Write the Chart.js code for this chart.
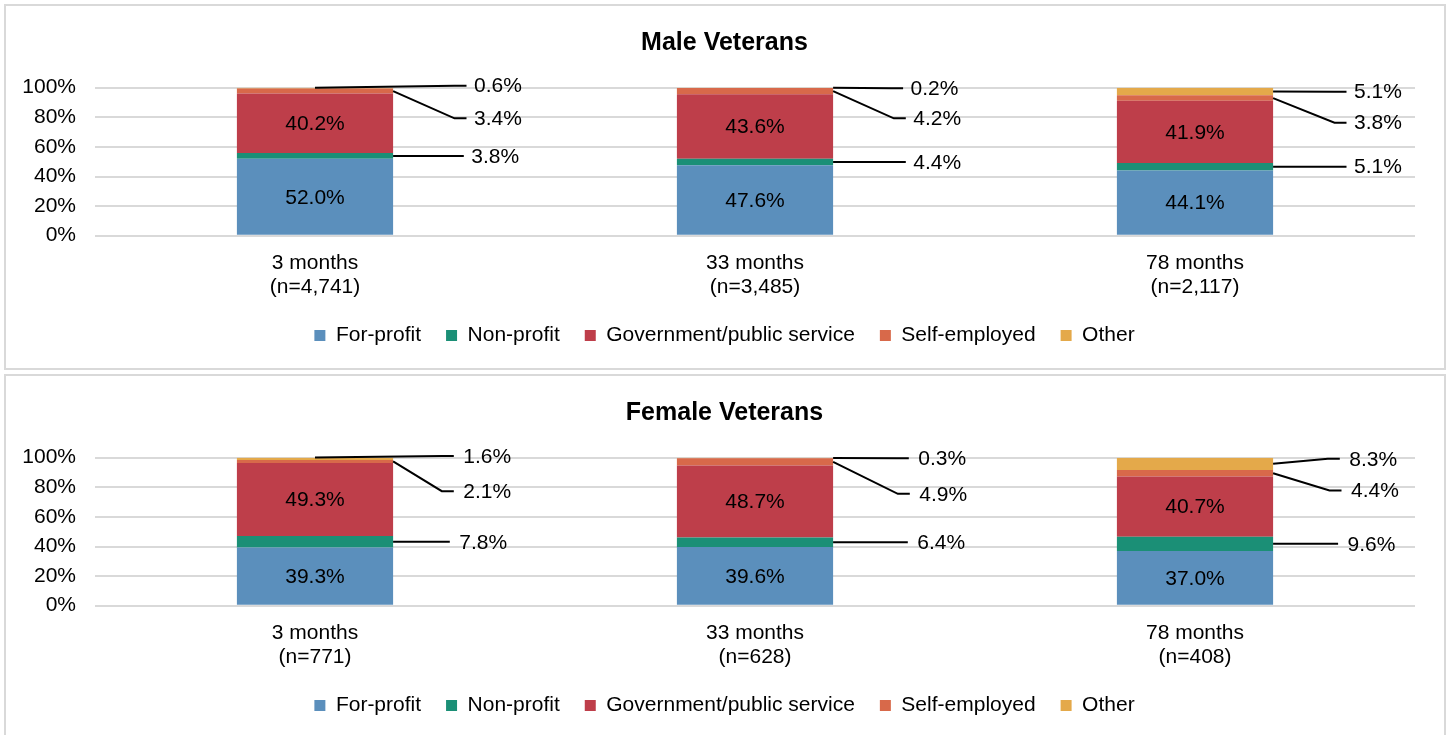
<!DOCTYPE html>
<html>
<head>
<meta charset="utf-8">
<script src="https://cdn.jsdelivr.net/npm/chart.js@4.4.1/dist/chart.umd.min.js"></script>
<style>
  html, body { margin: 0; padding: 0; background: #fff; width: 1447px; height: 735px; overflow: hidden; }
  .panel { position: absolute; border: 2px solid #d9d9d9; box-sizing: border-box; }
  #p1 { left: 4px; top: 4px; width: 1442px; height: 366px; }
  #p2 { left: 4px; top: 374px; width: 1442px; height: 380px; }
  canvas { position: absolute; left: 2px; }
  #c1 { top: 0px; }
  #c2 { top: 370px; }
</style>
</head>
<body>
<div class="panel" id="p1"></div>
<div class="panel" id="p2"></div>
<canvas id="c1" width="1445" height="370"></canvas>
<canvas id="c2" width="1445" height="370"></canvas>
<script>
// ---- Data ----
const seriesNames = ['For-profit', 'Non-profit', 'Government/public service', 'Self-employed', 'Other'];

const maleCategories = [['3 months', '(n=4,741)'], ['33 months', '(n=3,485)'], ['78 months', '(n=2,117)']];
const maleForProfit = [52.0, 47.6, 44.1];
const maleNonProfit = [3.8, 4.4, 5.1];
const maleGovernment = [40.2, 43.6, 41.9];
const maleSelfEmployed = [3.4, 4.2, 3.8];
const maleOther = [0.6, 0.2, 5.1];

const femaleCategories = [['3 months', '(n=771)'], ['33 months', '(n=628)'], ['78 months', '(n=408)']];
const femaleForProfit = [39.3, 39.6, 37.0];
const femaleNonProfit = [7.8, 6.4, 9.6];
const femaleGovernment = [49.3, 48.7, 40.7];
const femaleSelfEmployed = [2.1, 4.9, 4.4];
const femaleOther = [1.6, 0.3, 8.3];

const yTicks = [0, 20, 40, 60, 80, 100];

// ---- Styles / layout ----
const colors = ['#5B8FBC', '#1B8F76', '#BE3E4A', '#D8694A', '#E4A94A'];
const FONT = '"Liberation Sans", Arial, sans-serif';

const maleLabelLayout = {
  npEnd: [70.7, 72.7, 73.4],
  seEnd: [73.4, 72.7, 73.4],
  otEnd: [73.4, 70, 73.4],
  seY: [79.3, 79.3, 76.4],
  otY: [101.4, 99.6, 97.3],
  otFromTop: [true, false, false],
  textGap: 7.5
};
const femaleLabelLayout = {
  npEnd: [56.7, 74.7, 65],
  seEnd: [60.7, 76.7, 68.4],
  otEnd: [60.7, 75.7, 66.7],
  seY: [77.4, 75.6, 77.9],
  otY: [101.1, 99.7, 99.3],
  otFromTop: [true, false, false],
  textGap: 9.5
};

Chart.defaults.font.family = FONT;
Chart.defaults.font.size = 21;
Chart.defaults.color = '#000';

const labelPlugin = {
  id: 'segLabels',
  afterDatasetsDraw(chart, args, opts) {
    const L = opts.layout;
    if (!L) return;
    const ctx = chart.ctx;
    const yScale = chart.scales.y;
    const n = chart.data.labels.length;
    ctx.save();
    ctx.font = '21px ' + FONT;
    ctx.fillStyle = '#000';
    ctx.strokeStyle = '#000';
    ctx.lineWidth = 2;
    ctx.textBaseline = 'middle';
    const fmt = v => v.toFixed(1) + '%';
    for (let i = 0; i < n; i++) {
      const el = k => chart.getDatasetMeta(k).data[i].getProps(['x', 'y', 'base', 'width'], true);
      const val = k => chart.data.datasets[k].data[i];
      // inside labels
      ctx.textAlign = 'center';
      for (const k of [0, 2]) {
        const e = el(k);
        ctx.fillText(fmt(val(k)), e.x, (e.y + e.base) / 2 + 1);
      }
      const fp = el(0);
      const right = fp.x + fp.width / 2;
      ctx.textAlign = 'left';
      // Non-profit
      {
        const e = el(1);
        const cy = (e.y + e.base) / 2;
        const end = right + L.npEnd[i];
        ctx.beginPath();
        ctx.moveTo(right, cy);
        ctx.lineTo(end, cy);
        ctx.stroke();
        ctx.fillText(fmt(val(1)), end + L.textGap, cy + 1);
      }
      // Self-employed
      {
        const e = el(3);
        const cy = (e.y + e.base) / 2;
        const ly = yScale.getPixelForValue(L.seY[i]);
        const end = right + L.seEnd[i];
        ctx.beginPath();
        ctx.moveTo(right, cy);
        ctx.lineTo(end - 12, ly);
        ctx.lineTo(end, ly);
        ctx.stroke();
        ctx.fillText(fmt(val(3)), end + L.textGap, ly + 1);
      }
      // Other
      {
        const e = el(4);
        const cy = (e.y + e.base) / 2;
        const ly = yScale.getPixelForValue(L.otY[i]);
        const end = right + L.otEnd[i];
        ctx.beginPath();
        if (L.otFromTop[i]) ctx.moveTo(e.x, e.y); else ctx.moveTo(right, cy);
        ctx.lineTo(end - 12, ly);
        ctx.lineTo(end, ly);
        ctx.stroke();
        ctx.fillText(fmt(val(4)), end + L.textGap, ly + 1);
      }
    }
    ctx.restore();
  }
};

function makeChart(id, title, categories, seriesData, layout) {
  const datasets = seriesData.map((d, k) => ({
    label: seriesNames[k],
    data: d,
    backgroundColor: colors[k],
    borderWidth: 0,
    barPercentage: 0.355,
    categoryPercentage: 1.0
  }));
  return new Chart(document.getElementById(id), {
    type: 'bar',
    data: { labels: categories, datasets },
    plugins: [labelPlugin],
    options: {
      responsive: false,
      animation: false,
      devicePixelRatio: 1,
      layout: { padding: { top: 0, left: 0, right: 0, bottom: 14 } },
      plugins: {
        title: {
          display: true,
          text: title,
          color: '#000',
          font: { size: 25, weight: 'bold', lineHeight: 1.2 },
          padding: { top: 28.5, bottom: 29.2 }
        },
        legend: {
          position: 'bottom',
          labels: {
            boxWidth: 11,
            boxHeight: 11,
            padding: 25,
            color: '#000',
            font: { size: 21 }
          }
        },
        tooltip: { enabled: false },
        segLabels: { layout }
      },
      scales: {
        x: {
          stacked: true,
          grid: { display: false, drawTicks: false },
          border: { display: false },
          ticks: { padding: 15.5, font: { size: 21, lineHeight: 1.13 }, color: '#000', maxRotation: 0, autoSkip: false },
          afterFit: s => { s.height = 64.3; }
        },
        y: {
          stacked: true,
          min: 0,
          max: 100,
          afterBuildTicks: s => { s.ticks = yTicks.map(v => ({ value: v })); },
          grid: { color: '#d9d9d9', lineWidth: 2, drawTicks: false },
          border: { display: false },
          ticks: { padding: 19, font: { size: 21 }, color: '#000', callback: v => v + '%' },
          afterFit: s => { s.width = 93; }
        },
        yR: {
          type: 'linear',
          position: 'right',
          display: true,
          grid: { display: false, drawTicks: false },
          border: { display: false },
          ticks: { display: false },
          afterFit: s => { s.width = 32; }
        }
      }
    }
  });
}

makeChart('c1', 'Male Veterans', maleCategories,
  [maleForProfit, maleNonProfit, maleGovernment, maleSelfEmployed, maleOther], maleLabelLayout);
makeChart('c2', 'Female Veterans', femaleCategories,
  [femaleForProfit, femaleNonProfit, femaleGovernment, femaleSelfEmployed, femaleOther], femaleLabelLayout);
</script>
</body>
</html>
